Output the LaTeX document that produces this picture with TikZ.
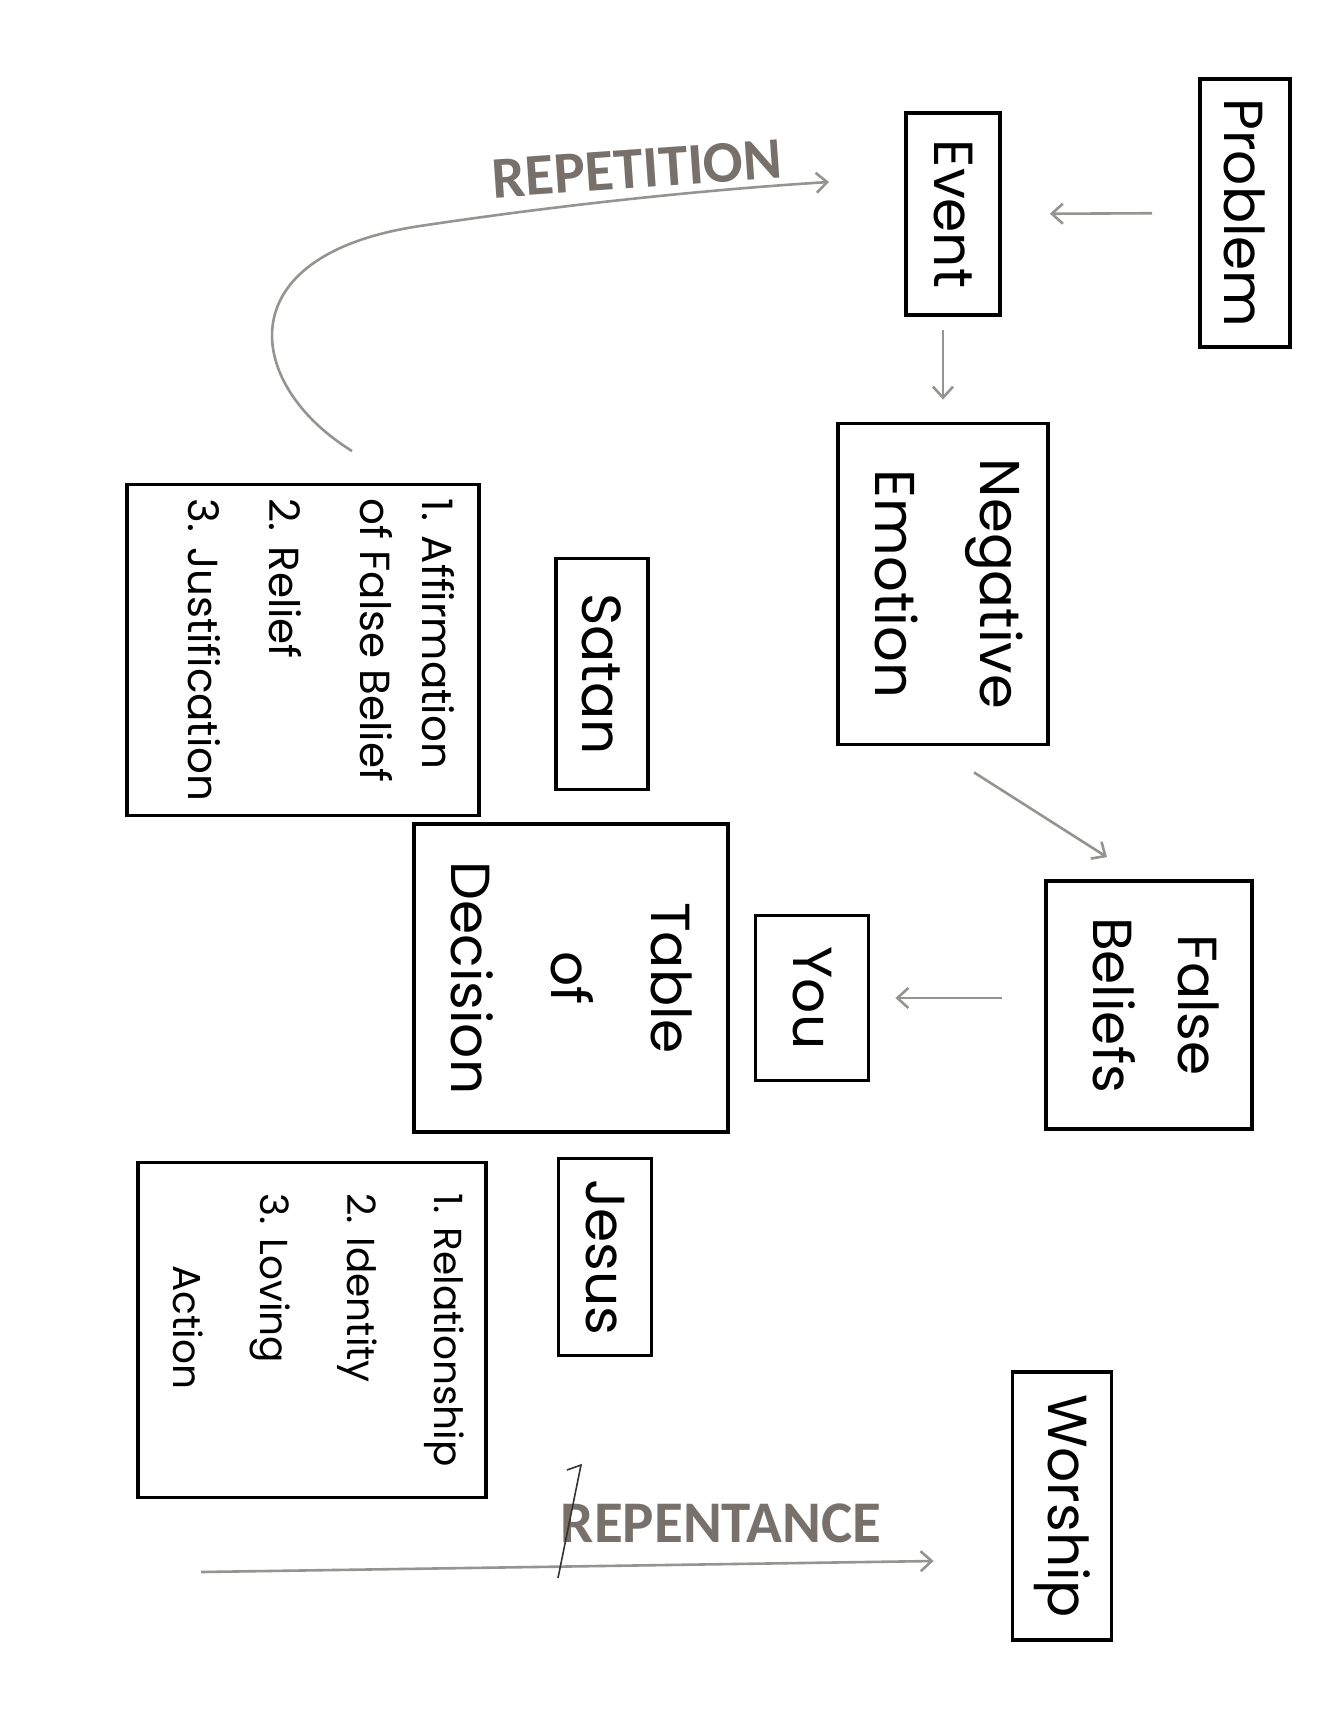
\documentclass[tikz,border=0pt]{standalone}
\usepackage{fontspec}
\setmainfont{Poppins}
\newfontfamily\labelfont{Carlito}
\usetikzlibrary{arrows.meta,calc}
\definecolor{arrowgray}{RGB}{150,148,145}
\definecolor{labelgray}{RGB}{120,113,107}
\newcommand\rottext[1]{\rotatebox{-90}{#1}}
\newcommand\shiftright[2]{\hspace*{#1}#2\hspace*{-#1}}
\begin{document}
\begin{tikzpicture}[x=1pt,y=-1pt,
  box/.style={draw=black, line width=3.8pt, inner sep=0pt, font=\fontsize{55}{60}\selectfont},
  listbox/.style={draw=black, line width=3.8pt, inner sep=0pt},
  conn/.style={draw=arrowgray, line width=2.6pt, -{Straight Barb[length=11pt,width=20pt,line width=2.6pt]}},
  replabel/.style={text=labelgray, font=\labelfont\bfseries\fontsize{59}{60}\selectfont, inner sep=0pt}
  ]
\useasboundingbox (0,0) rectangle (1319,1727);
\fill[white] (0,0) rectangle (1319,1727);

% boxes
\node[box, minimum width=90pt, minimum height=268pt] (P) at (1245,213) {\rottext{Problem}};
\node[box, minimum width=94pt, minimum height=202pt] (E) at (953,214) {\rottext{Event}};
\node[box, minimum width=206pt, minimum height=321pt] (NE) at (943,584)
  {\shiftright{6pt}{\rottext{\fontsize{56}{105}\selectfont\begin{tabular}{@{}c@{}}Negative\\Emotion\end{tabular}}}};
\node[box, minimum width=206pt, minimum height=248pt] (FB) at (1149,1005)
  {\shiftright{4pt}{\rottext{\fontsize{55}{85}\selectfont\begin{tabular}{@{}c@{}}False\\Beliefs\end{tabular}}}};
\node[box, minimum width=113pt, minimum height=165pt] (You) at (812,998) {\rottext{You}};
\node[box, minimum width=314pt, minimum height=308pt] (T) at (571,978)
  {\rottext{\fontsize{55}{100}\selectfont\begin{tabular}{@{}c@{}}Table\\of\\Decision\end{tabular}}};
\node[box, minimum width=92pt, minimum height=231pt] (S) at (602,674) {\rottext{Satan}};
\node[box, minimum width=93pt, minimum height=197pt] (J) at (605,1257) {\rottext{Jesus}};
\node[box, minimum width=99pt, minimum height=268pt] (W) at (1062,1506) {\rottext{Worship}};

\node[listbox, minimum width=352pt, minimum height=331pt] (SL) at (303,650)
  {\shiftright{15pt}{\rottext{\fontsize{42}{62}\selectfont\begin{tabular}{@{}l@{}}1. Affirmation\\of False Belief\\[29pt]2. Relief\\[19pt]3. Justification\end{tabular}}}};
\node[listbox, minimum width=340pt, minimum height=335pt] (JL) at (312,1330)
  {\shiftright{9pt}{\rottext{\fontsize{39}{87}\selectfont\begin{tabular}{@{}l@{}}1. Relationship\\2. Identity\\3. Loving\\\hspace*{72pt}Action\end{tabular}}}};

% connectors
\draw[conn, shorten <=46pt, shorten >=48pt] (P.west) -- (E.east);
\draw[conn, shorten <=13pt, shorten >=22pt] (E.south -| NE.north) -- (NE.north);
\draw[conn] ($(NE.south)+(31,26)$) -- ($(FB.north)+(-42,-22)$);
\draw[conn, shorten <=42pt, shorten >=25pt] (FB.west |- You.east) -- (You.east);

% repetition loop
\coordinate (rp) at (352,451);
\draw[conn] (rp) .. controls (245,385) and (225,255) .. (420,226)
  .. controls (553,206) and (700,190) .. ($(E.west)+(-75,-32)$);
\node[replabel, rotate=4] (reptxt) at (637,169) {REPETITION};

% repentance
\coordinate (rs) at (201,1572);
\draw[conn] (rs) -- ($(W.west)+(-77,55)$);
\node[replabel] (pentxt) at (721,1523) {REPENTANCE};
\draw[line width=1.6pt, black!80] (567,1470) -- (581,1465) -- (558,1578);
\end{tikzpicture}
\end{document}
